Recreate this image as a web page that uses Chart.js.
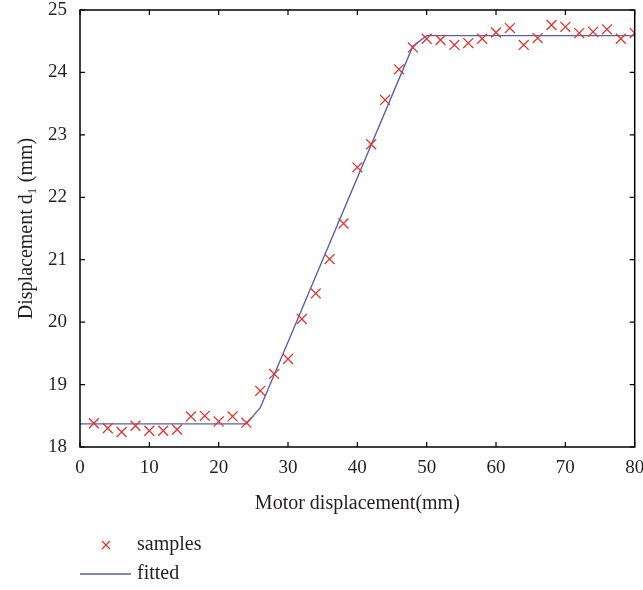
<!DOCTYPE html>
<html>
<head>
<meta charset="utf-8">
<script src="https://cdn.jsdelivr.net/npm/chart.js@4"></script>
<style>
  html, body { margin: 0; padding: 0; background: #fff; }
  #wrap { width: 643px; height: 590px; }
</style>
</head>
<body>
<div id="wrap"><canvas id="chart" width="643" height="590"></canvas></div>
<script>
// measured samples
const sampleX = [2, 4, 6, 8, 10, 12, 14, 16, 18, 20, 22, 24, 26, 28, 30, 32, 34, 36, 38, 40,
                 42, 44, 46, 48, 50, 52, 54, 56, 58, 60, 62, 64, 66, 68, 70, 72, 74, 76, 78, 80];
const sampleY = [18.38, 18.30, 18.24, 18.34, 18.26, 18.26, 18.28, 18.49, 18.50, 18.41,
                 18.49, 18.39, 18.90, 19.17, 19.41, 20.05, 20.46, 21.01, 21.58, 22.48,
                 22.85, 23.56, 24.05, 24.40, 24.54, 24.52, 24.44, 24.47, 24.54, 24.64,
                 24.71, 24.44, 24.55, 24.76, 24.73, 24.63, 24.65, 24.69, 24.54, 24.63];

// fitted curve vertices
const fitX = [0, 24, 26, 48, 50, 80];
const fitY = [18.37, 18.37, 18.63, 24.42, 24.59, 24.59];

const xTicks = [0, 10, 20, 30, 40, 50, 60, 70, 80];
const yTicks = [18, 19, 20, 21, 22, 23, 24, 25];

const FONT = '"Liberation Serif", "DejaVu Serif", serif';
const TEXT = '#231f20';
const RED = '#e3342b';
const BLUE = '#5560b4';

// box around the plot with inward ticks on all four sides
const framePlugin = {
    id: 'frame',
    afterDatasetsDraw(chart) {
        const {ctx, chartArea: a, scales} = chart;
        const len = 5;
        ctx.save();
        ctx.strokeStyle = '#000';
        ctx.lineWidth = 1.5;
        ctx.strokeRect(a.left, a.top, a.right - a.left, a.bottom - a.top);
        ctx.lineWidth = 1.2;
        ctx.beginPath();
        xTicks.forEach(v => {
            const px = scales.x.getPixelForValue(v);
            ctx.moveTo(px, a.bottom); ctx.lineTo(px, a.bottom - len);
            ctx.moveTo(px, a.top); ctx.lineTo(px, a.top + len);
        });
        yTicks.forEach(v => {
            const py = scales.y.getPixelForValue(v);
            ctx.moveTo(a.left, py); ctx.lineTo(a.left + len, py);
            ctx.moveTo(a.right, py); ctx.lineTo(a.right - len, py);
        });
        ctx.stroke();
        ctx.restore();
    }
};

// two-row legend under the x axis title
const legendPlugin = {
    id: 'stackLegend',
    afterDraw(chart) {
        const ctx = chart.ctx;
        const x0 = 80, textX = 137;
        ctx.save();
        ctx.strokeStyle = RED;
        ctx.lineWidth = 1.3;
        ctx.beginPath();
        ctx.moveTo(102, 541); ctx.lineTo(110, 549);
        ctx.moveTo(110, 541); ctx.lineTo(102, 549);
        ctx.stroke();
        ctx.strokeStyle = BLUE;
        ctx.lineWidth = 1.5;
        ctx.beginPath();
        ctx.moveTo(x0, 574); ctx.lineTo(131, 574);
        ctx.stroke();
        ctx.fillStyle = TEXT;
        ctx.font = '20px ' + FONT;
        ctx.textBaseline = 'middle';
        ctx.textAlign = 'left';
        ctx.fillText(chart.data.datasets[0].label, textX, 545);
        ctx.fillText(chart.data.datasets[1].label, textX, 574);
        ctx.restore();
    }
};

new Chart(document.getElementById('chart'), {
    type: 'scatter',
    data: {
        datasets: [{
            label: 'samples',
            data: sampleX.map((x, i) => ({x: x, y: sampleY[i]})),
            pointStyle: 'crossRot',
            pointRadius: 7,
            pointBorderWidth: 1.3,
            borderColor: RED,
            backgroundColor: RED,
            order: 0
        }, {
            label: 'fitted',
            type: 'line',
            data: fitX.map((x, i) => ({x: x, y: fitY[i]})),
            borderColor: BLUE,
            borderWidth: 1.4,
            pointRadius: 0,
            fill: false,
            tension: 0,
            order: 1
        }]
    },
    options: {
        responsive: false,
        animation: false,
        layout: {padding: 0},
        plugins: {
            legend: {display: false},
            tooltip: {enabled: false}
        },
        scales: {
            x: {
                type: 'linear',
                min: 0,
                max: 80,
                afterFit: s => {
                    s.height = 143;
                    s.paddingLeft = 0;
                    s.paddingRight = 8;
                },
                afterBuildTicks: s => { s.ticks = xTicks.map(v => ({value: v})); },
                grid: {display: false, drawTicks: false},
                border: {display: false},
                ticks: {
                    color: TEXT,
                    padding: 10,
                    maxRotation: 0,
                    font: {family: FONT, size: 19}
                },
                title: {
                    display: true,
                    text: 'Motor displacement(mm)',
                    color: TEXT,
                    font: {family: FONT, size: 20},
                    padding: {top: 0, bottom: 74}
                }
            },
            y: {
                type: 'linear',
                min: 18,
                max: 25,
                afterFit: s => {
                    s.width = 80;
                    s.paddingTop = 10;
                    s.paddingBottom = 0;
                },
                afterBuildTicks: s => { s.ticks = yTicks.map(v => ({value: v})); },
                grid: {display: false, drawTicks: false},
                border: {display: false},
                ticks: {
                    color: TEXT,
                    padding: 13,
                    font: {family: FONT, size: 19}
                },
                title: {
                    display: true,
                    text: 'Displacement d₁ (mm)',
                    color: TEXT,
                    font: {family: FONT, size: 20},
                    padding: {top: 15, bottom: 0}
                }
            }
        }
    },
    plugins: [framePlugin, legendPlugin]
});
</script>
</body>
</html>
